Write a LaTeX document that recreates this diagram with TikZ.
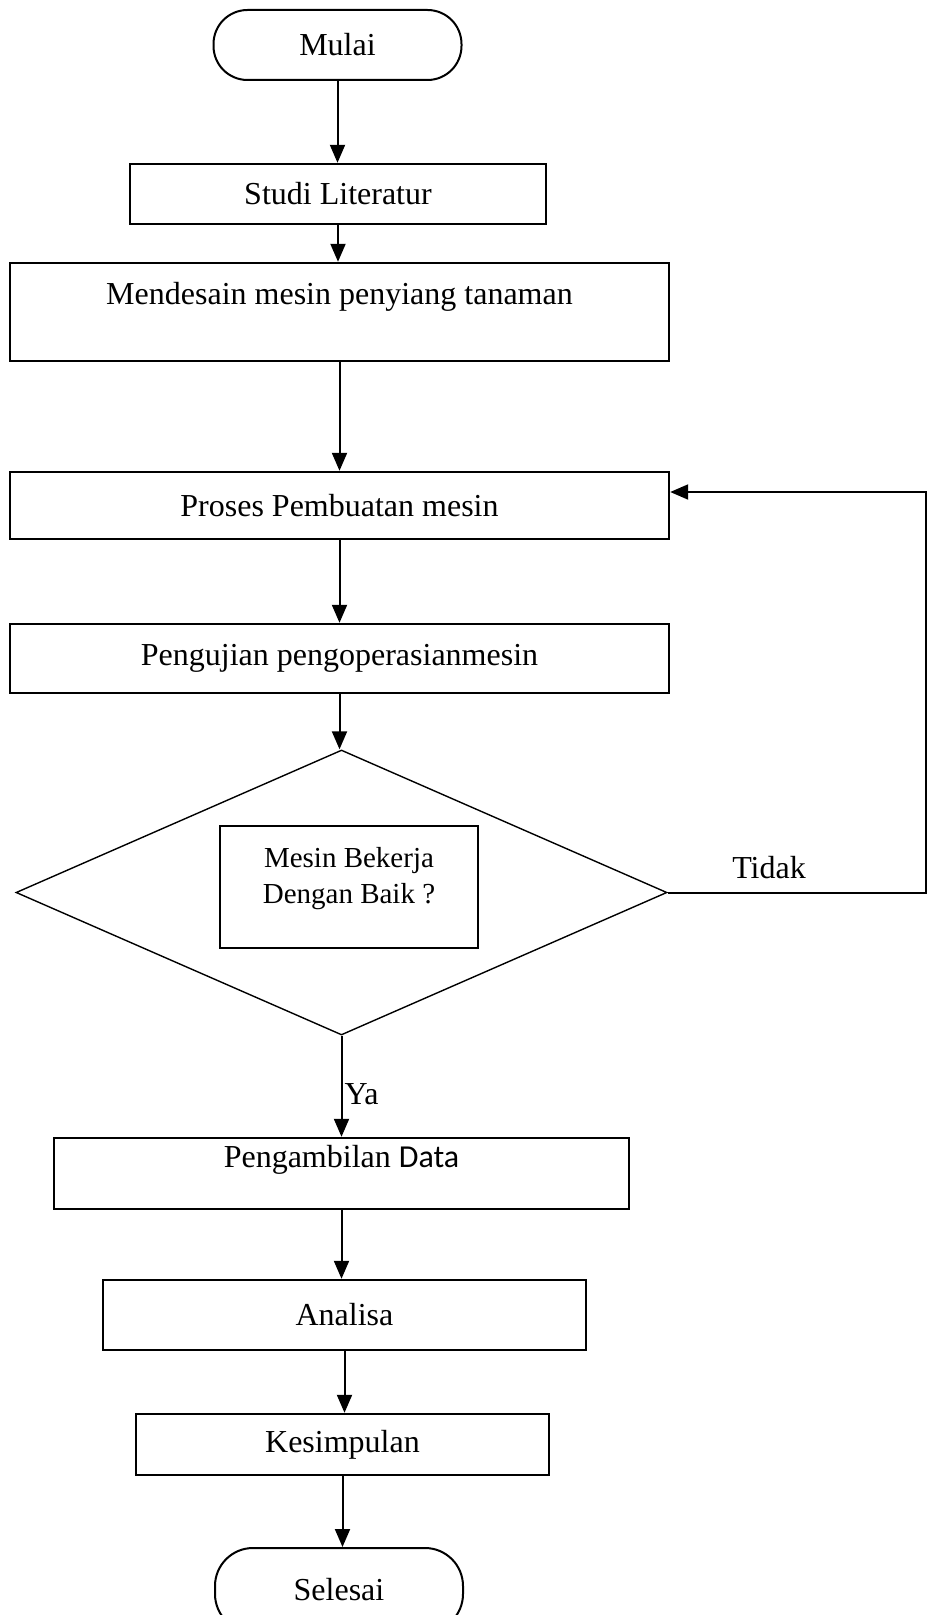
\documentclass[tikz,border=0pt]{standalone}
\usepackage{fontspec}
\setmainfont{Liberation Serif}
\newfontfamily\datafont{Carlito}
\usetikzlibrary{shapes.geometric,arrows.meta}

\begin{document}
\begin{tikzpicture}[
  x=0.5pt, y=-0.5pt,
  font=\fontsize{16}{19}\selectfont,
  box/.style={draw, line width=1.2pt, align=center, inner sep=2pt},
  topbox/.style={box, text depth=19pt},
  terminal/.style={box, line width=1pt, rounded corners=17pt, minimum width=124pt, minimum height=35pt},
  decision/.style={draw, diamond, line width=0.7pt, minimum width=325.5pt, minimum height=142.5pt, inner sep=0pt},
  qbox/.style={draw, line width=0.9pt, minimum width=129pt, minimum height=61pt, align=center, font=\fontsize{14.5}{18}\selectfont, text depth=12pt},
  ra/.style={-{Triangle[length=9pt, width=7.5pt]}, line width=1pt}
]
\useasboundingbox (0,0) rectangle (928,1615);
\clip (0,0) rectangle (928,1615);
\node[terminal] (mulai) at (337.5, 45) {Mulai};
\node[box, minimum width=208pt, minimum height=30pt] (studi) at (338, 194) {Studi Literatur};
\node[topbox, minimum width=329.5pt, minimum height=49pt] (desain) at (339.5, 312) {Mendesain mesin penyiang tanaman};
\node[box, minimum width=329.5pt, minimum height=33.5pt] (buat) at (339.5, 505.5) {Proses Pembuatan mesin};
\node[box, minimum width=329.5pt, minimum height=34.5pt] (uji) at (339.5, 658.5) {Pengujian pengoperasianmesin};
\node[decision] (cek) at (341.5, 892.5) {};
\node[qbox] (tanya) at (349, 887) {Mesin Bekerja\\Dengan Baik ?};
\node[topbox, minimum width=287.5pt, minimum height=35.5pt, text depth=17pt] (ambil) at (341.5, 1173.5) {Pengambilan {\datafont Data}};
\node[box, minimum width=241.5pt, minimum height=35pt] (analisa) at (344.5, 1315) {Analisa};
\node[box, minimum width=206.5pt, minimum height=30.5pt] (simpulan) at (342.5, 1444.5) {Kesimpulan};
\node[terminal, minimum height=42pt, rounded corners=19pt] (selesai) at (339, 1590) {Selesai};
\foreach \a/\b in {mulai/studi, studi/desain, desain/buat, buat/uji, uji/cek, ambil/analisa, analisa/simpulan, simpulan/selesai}{
  \draw[ra] (\a.south) -- (\a.south |- \b.north);
}
\draw[ra] (cek.south) -- node[pos=0.58, anchor=west, inner sep=1pt] (ya) {Ya} (cek.south |- ambil.north);
\coordinate (balik) at (926, 892.5);
\draw[ra] (cek.east) -- (balik) |- ([yshift=6.75pt]buat.east);
\node (tidak) at (769, 868) {Tidak};
\end{tikzpicture}
\end{document}
